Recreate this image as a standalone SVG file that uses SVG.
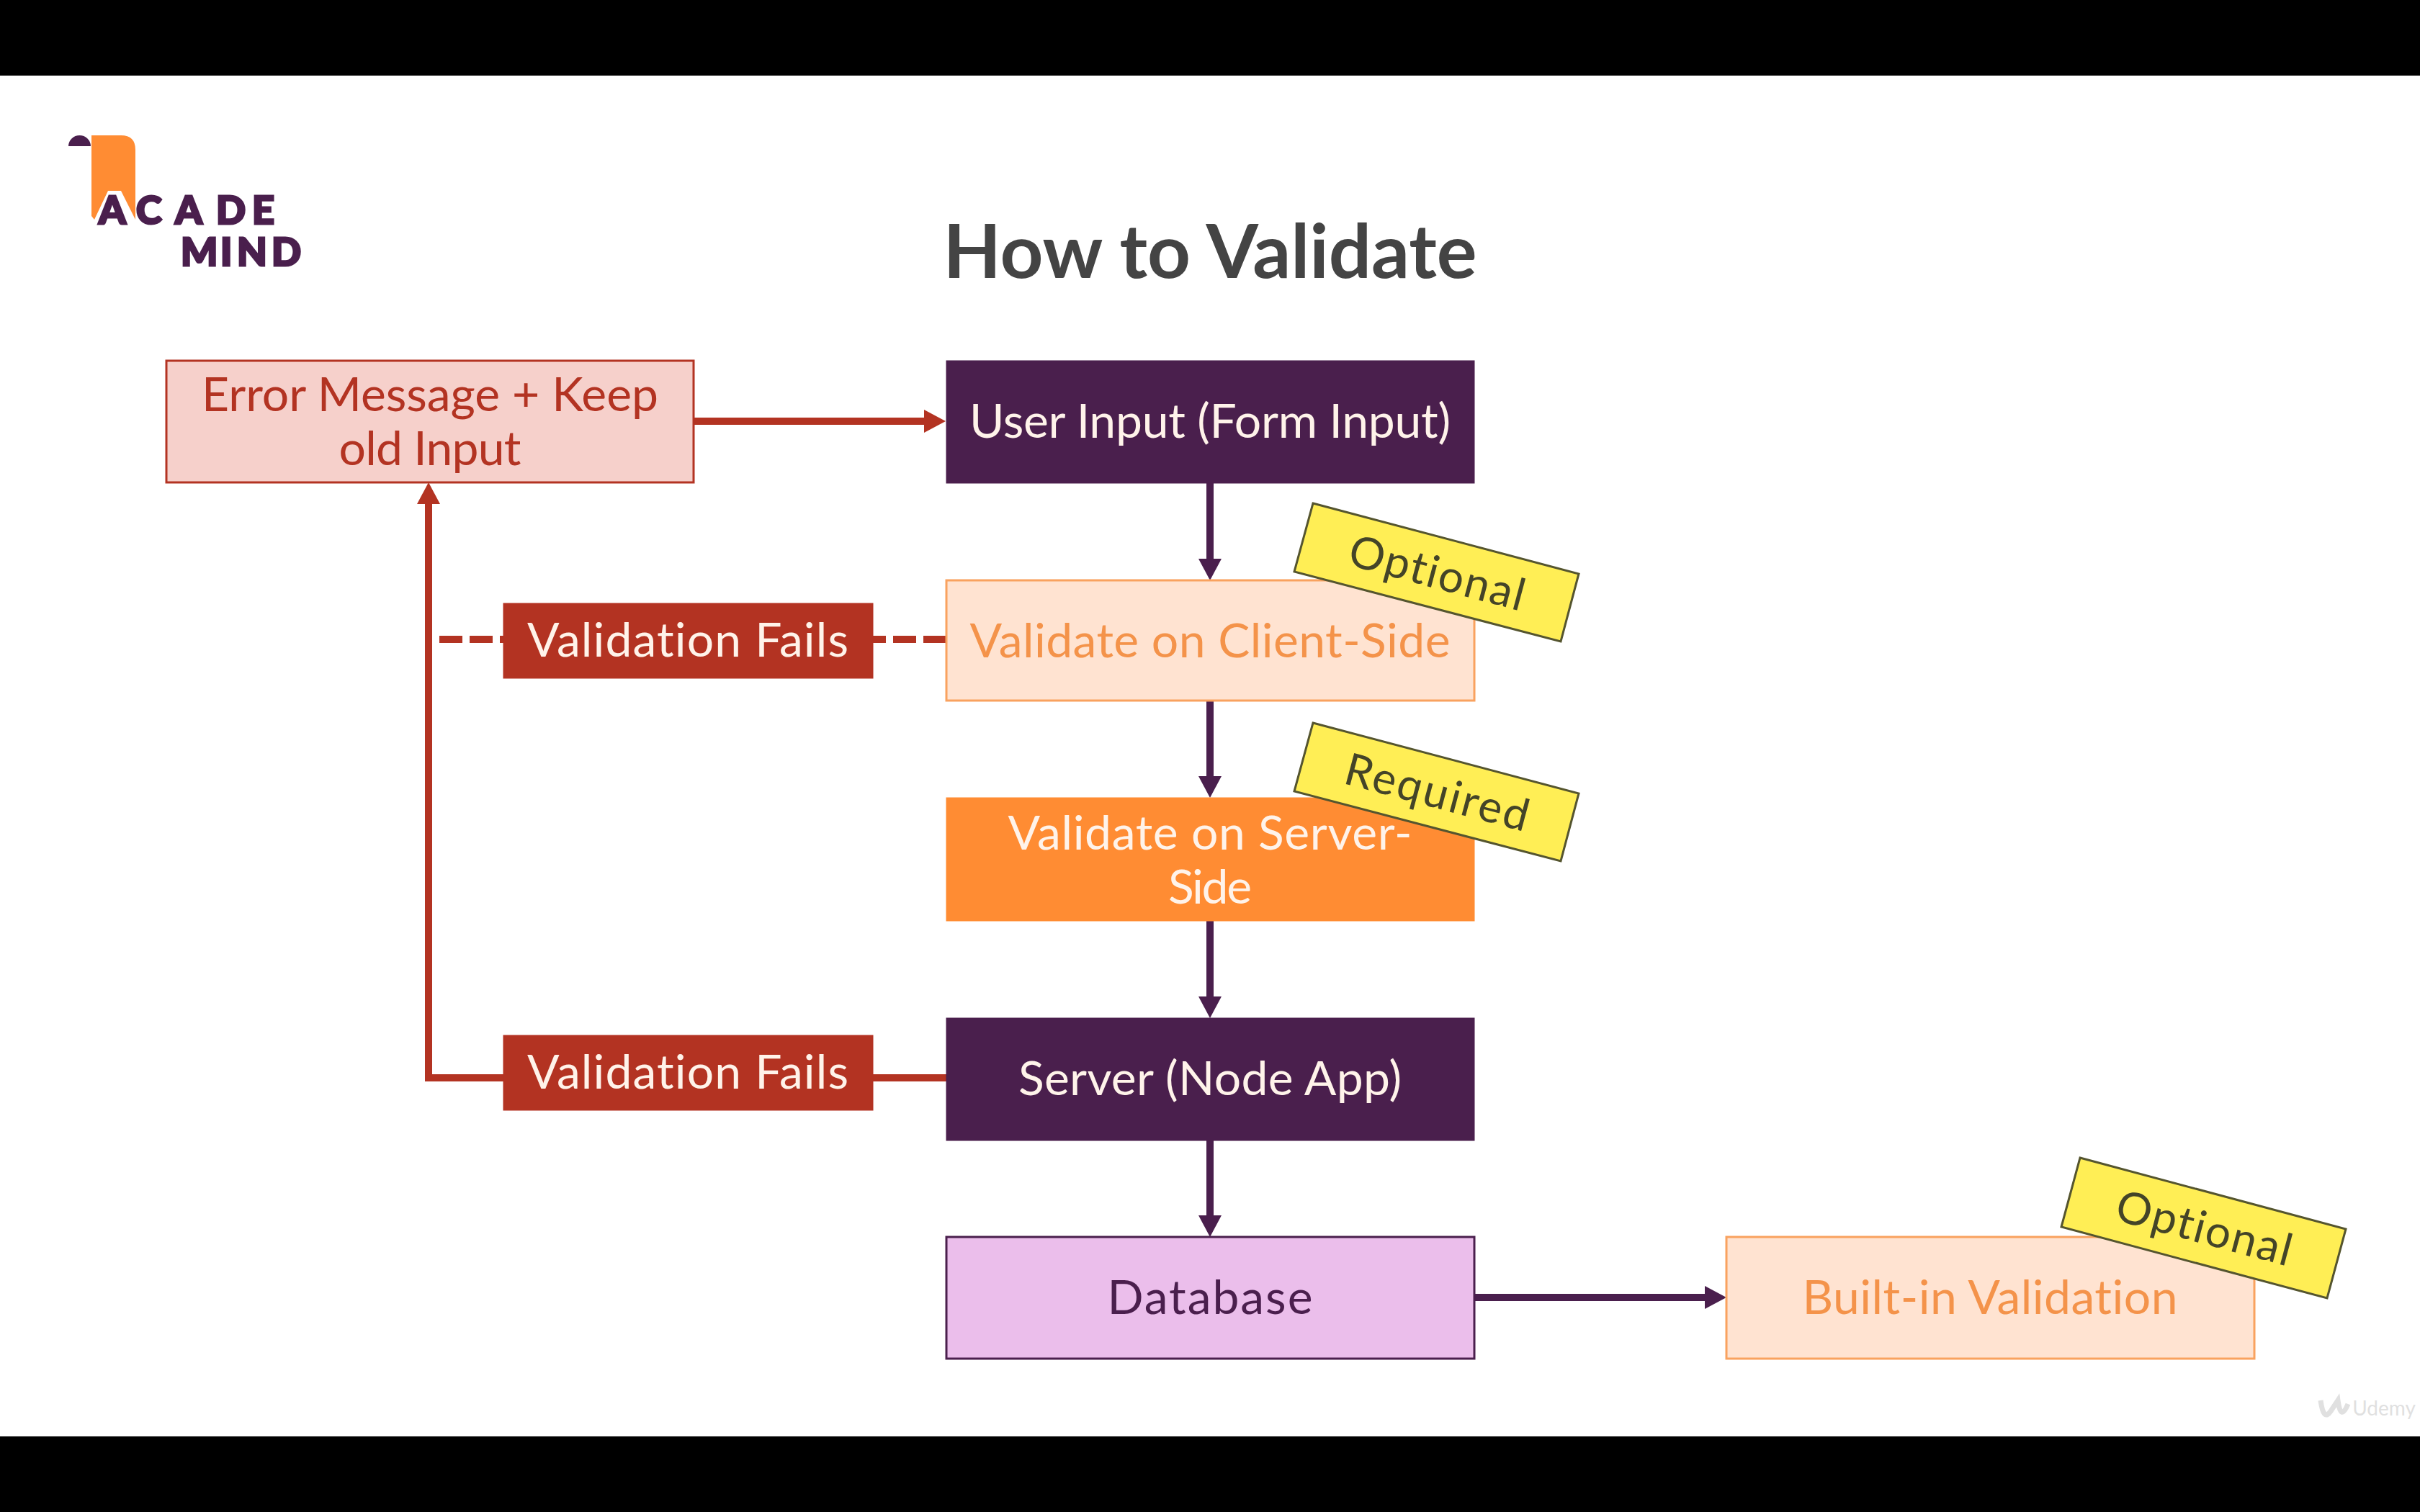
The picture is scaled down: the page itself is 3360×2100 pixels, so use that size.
<svg xmlns="http://www.w3.org/2000/svg" width="3360" height="2100" viewBox="0 0 3360 2100">
<defs>
<marker id="ap" markerUnits="userSpaceOnUse" markerWidth="32" markerHeight="32" refX="4" refY="16" orient="auto"><path d="M0 0L30 16L0 32Z" fill="#4a1f4d"/></marker>
<marker id="ar" markerUnits="userSpaceOnUse" markerWidth="32" markerHeight="32" refX="4" refY="16" orient="auto"><path d="M0 0L30 16L0 32Z" fill="#b33322"/></marker>
</defs>
<style>
text{font-family:"Lato","Liberation Sans",sans-serif;font-size:66px;text-anchor:middle;font-variant-ligatures:none}
.box{stroke-width:3}
.p{fill:#4a1f4d;stroke:#4a1f4d;stroke-width:1}
.lo{fill:#ffe3d1;stroke:#f9a25f}
.o{fill:#ff8c33;stroke:#ff8c33;stroke-width:1}
.db{fill:#ebbeeb;stroke:#4a1f4d}
.er{fill:#f6d0cb;stroke:#b33322}
.r{fill:#b33322;stroke:#b33322;stroke-width:1}
.tw{fill:#fff3ea}
.to{fill:#f4934a}
.tr{fill:#b33322}
.td{fill:#4a1f4d}
.st{fill:#ffee55;stroke:#55552f;stroke-width:3}
.tk{fill:#444428;font-size:62px}
.cp{fill:none;stroke:#4a1f4d;stroke-width:10}
.cr{fill:none;stroke:#b33322;stroke-width:10}
.logo{font-family:"Lato",sans-serif;font-weight:900;font-size:54px;fill:#4a1f4d;stroke:#4a1f4d;stroke-width:3;text-anchor:start}
</style>
<rect width="3360" height="2100" fill="#fff"/>
<rect id="bar-top" width="3360" height="105" fill="#000"/>
<rect id="bar-bottom" y="1995" width="3360" height="105" fill="#000"/>
<g id="logo">
<path d="M127 188H168Q188 188 188 208V305L168 265H150L131 305L127 300Z" fill="#ff8c33"/>
<path d="M95 203A15.500 15 0 0 1 126 203Z" fill="#4a1f4d"/>
<text class="logo" x="137 189 243 300 350" y="311">ACADE</text>
<text class="logo" x="251 306 329 377" y="369">MIND</text>
</g>
<text id="title" x="1680" y="386" textLength="741" lengthAdjust="spacingAndGlyphs" style="font-size:103px;font-weight:700;fill:#444">How to Validate</text>
<g id="connectors">
<path class="cp" d="M1680 671V780" marker-end="url(#ap)"/>
<path class="cp" d="M1680 973V1082" marker-end="url(#ap)"/>
<path class="cp" d="M1680 1279V1388" marker-end="url(#ap)"/>
<path class="cp" d="M1680 1584V1692" marker-end="url(#ap)"/>
<path class="cp" d="M2047 1802H2371" marker-end="url(#ap)"/>
<path class="cr" d="M963 585H1287" marker-end="url(#ar)"/>
<path class="cr" d="M1314 1497H595V696" marker-end="url(#ar)"/>
<path class="cr" d="M1314 888H610" stroke-dasharray="32 10"/>
</g>
<g id="error"><rect class="box er" x="231" y="501" width="732" height="169"/><text class="tr" x="597" y="571" textLength="634">Error Message + Keep</text><text class="tr" x="597" y="646" textLength="253">old Input</text></g>
<g id="user-input"><rect class="box p" x="1314" y="501" width="733" height="170"/><text class="tw" x="1680" y="608" textLength="668">User Input (Form Input)</text></g>
<g id="fails-1"><rect class="box r" x="699" y="838" width="513" height="104"/><text class="tw" x="955" y="912" textLength="446">Validation Fails</text></g>
<g id="client"><rect class="box lo" x="1314" y="806" width="733" height="167"/><text class="to" x="1680" y="913" textLength="667">Validate on Client-Side</text></g>
<g id="server-val"><rect class="box o" x="1314" y="1108" width="733" height="171"/><text class="tw" x="1680" y="1180" textLength="561">Validate on Server-</text><text class="tw" x="1680" y="1255" textLength="116">Side</text></g>
<g id="fails-2"><rect class="box r" x="699" y="1438" width="513" height="104"/><text class="tw" x="955" y="1512" textLength="446">Validation Fails</text></g>
<g id="server"><rect class="box p" x="1314" y="1414" width="733" height="170"/><text class="tw" x="1680" y="1521" textLength="532">Server (Node App)</text></g>
<g id="database"><rect class="box db" x="1314" y="1718" width="733" height="169"/><text class="td" x="1680" y="1825" textLength="285">Database</text></g>
<g id="builtin"><rect class="box lo" x="2397" y="1718" width="733" height="169"/><text class="to" x="2763" y="1825" textLength="521">Built-in Validation</text></g>
<g id="tag-optional-1"><polygon class="st" points="1823,699 2192,797 2167,891 1797,794"/><text class="tk" transform="translate(1995 797) rotate(15)" y="20" textLength="250">Optional</text></g>
<g id="tag-required"><polygon class="st" points="1823,1004 2192,1102 2167,1196 1797,1099"/><text class="tk" transform="translate(1995 1102) rotate(15)" y="20" textLength="262">Required</text></g>
<g id="tag-optional-2"><polygon class="st" points="2888,1608 3257,1707 3231,1803 2862,1704"/><text class="tk" transform="translate(3060 1707) rotate(15)" y="20" textLength="250">Optional</text></g>
<g id="watermark" opacity=".45"><path d="M3222 1945Q3226 1975 3236 1960T3246 1945Q3250 1975 3260 1950" fill="none" stroke="#bbb" stroke-width="7"/><text x="3310" y="1966" style="font-size:28px;fill:#bbb">Udemy</text></g>
</svg>
